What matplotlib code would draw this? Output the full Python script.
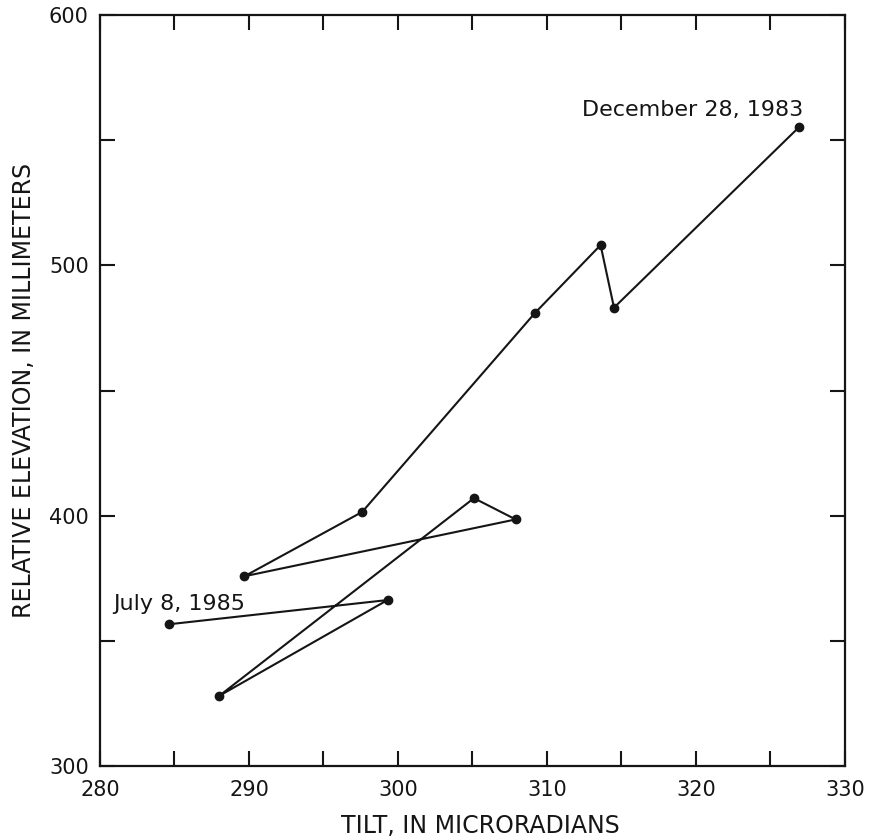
import matplotlib.pyplot as plt
from matplotlib.ticker import MultipleLocator

plt.rcParams['font.family'] = ['DejaVu Sans']

# tilt (microradians) and relative elevation (mm), Dec 28 1983 -> Jul 8 1985
tilt = [326.9, 314.5, 313.6, 309.2, 297.6, 289.7, 307.9, 305.1, 288.0, 299.3, 284.6]
elevation = [555.1, 483.1, 508.1, 481.0, 401.5, 375.8, 398.5, 407.0, 328.0, 366.3, 356.6]
first_label = "December 28, 1983"
last_label = "July 8, 1985"

fig = plt.figure(figsize=(8.7, 8.39), dpi=100)
ax = fig.add_axes([0.1149, 0.0870, 0.8563, 0.8951])

ax.plot(tilt, elevation, color='#151515', lw=1.5, marker='o', ms=6, mfc='#151515', mec='#151515')

ax.text(319.8, 562, first_label, ha='center', va='center', fontsize=16, color='#151515')
ax.text(285.3, 364.9, last_label, ha='center', va='center', fontsize=16, color='#151515')

ax.set_xlim(280, 330)
ax.set_ylim(300, 600)
ax.xaxis.set_major_locator(MultipleLocator(10))
ax.xaxis.set_minor_locator(MultipleLocator(5))
ax.yaxis.set_major_locator(MultipleLocator(100))
ax.yaxis.set_minor_locator(MultipleLocator(50))
ax.tick_params(which='both', direction='in', length=11, width=1.5, top=True, right=True,
               labelsize=15, colors='#151515')
ax.tick_params(axis='x', pad=10)
ax.tick_params(axis='y', pad=8)
for s in ax.spines.values():
    s.set_linewidth(1.6)
    s.set_color('#151515')

ax.set_xlabel("TILT, IN MICRORADIANS", fontsize=17, color='#151515', labelpad=10)
ax.xaxis.label.set_x(0.51)
ax.set_ylabel("RELATIVE ELEVATION, IN MILLIMETERS", fontsize=17, color='#151515', labelpad=9)

fig.savefig("out.png", dpi=100)
